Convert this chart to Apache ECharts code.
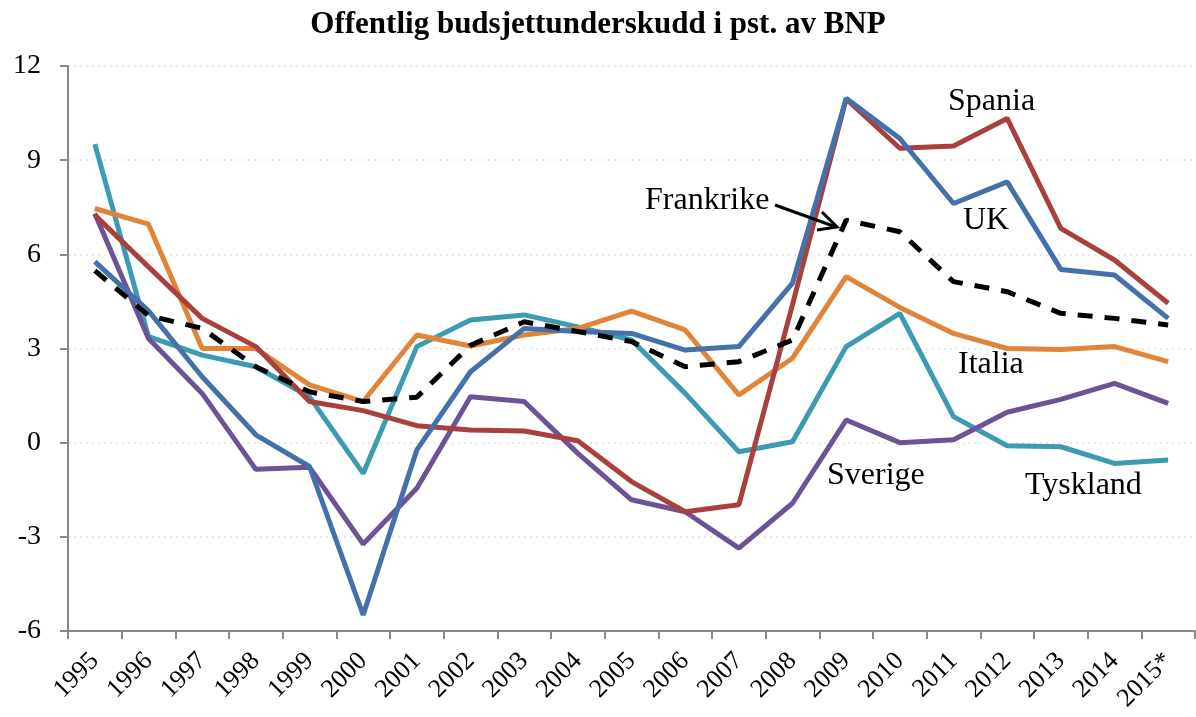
<!DOCTYPE html>
<html><head><meta charset="utf-8">
<script src="https://cdn.jsdelivr.net/npm/echarts@6/dist/echarts.min.js"></script>
<style>html,body{margin:0;padding:0;background:#fff}#c{width:1196px;height:717px}</style>
</head><body><div id="c"></div>
<script>
const years = ['1995','1996','1997','1998','1999','2000','2001','2002','2003','2004','2005','2006','2007','2008','2009','2010','2011','2012','2013','2014','2015*'];
const spania   = [7.25,5.6,3.96,3.06,1.31,1.02,0.54,0.40,0.37,0.06,-1.24,-2.2,-1.98,4.4,10.95,9.38,9.45,10.33,6.83,5.82,4.44];
const uk       = [5.77,4.2,2.1,0.25,-0.76,-5.49,-0.23,2.26,3.64,3.54,3.48,2.95,3.06,5.08,10.97,9.69,7.62,8.31,5.52,5.34,3.96];
const frankrike= [5.48,4.05,3.64,2.42,1.62,1.31,1.45,3.1,3.85,3.54,3.22,2.42,2.58,3.27,7.09,6.72,5.13,4.81,4.12,3.96,3.75];
const italia   = [7.46,6.96,3.0,3.0,1.84,1.31,3.43,3.08,3.43,3.64,4.19,3.59,1.52,2.69,5.29,4.31,3.48,3.0,2.97,3.06,2.58];
const sverige  = [7.3,3.32,1.57,-0.85,-0.78,-3.23,-1.45,1.46,1.31,-0.34,-1.82,-2.2,-3.36,-1.93,0.72,0.0,0.09,0.97,1.38,1.89,1.25];
const tyskland = [9.51,3.38,2.79,2.42,1.46,-0.98,3.06,3.91,4.07,3.69,3.27,1.57,-0.29,0.03,3.06,4.12,0.83,-0.1,-0.13,-0.66,-0.55];

const FONT = '"Liberation Serif","Times New Roman",serif';
const chart = echarts.init(document.getElementById('c'));
function ln(name, data, color, extra) {
  return Object.assign({
    name, type: 'line', data, symbol: 'none', animation: false,
    lineStyle: { color, width: 5 }, z: 2
  }, extra || {});
}
const lbl = (text, left, top) => ({ type: 'text', left, top, z: 10, style: { text, font: '32px ' + FONT, fill: '#000' } });
chart.setOption({
  animation: false,
  title: {
    text: 'Offentlig budsjettunderskudd i pst. av BNP',
    left: 'center', top: 4,
    textStyle: { fontFamily: FONT, fontWeight: 'bold', fontSize: 31, color: '#000' }
  },
  grid: { left: 68, right: 1, top: 66, bottom: 86, containLabel: false },
  xAxis: {
    type: 'category', data: years, boundaryGap: true,
    axisLine: { onZero: false, lineStyle: { color: '#888', width: 2 } },
    axisTick: { show: true, length: 8, lineStyle: { color: '#888', width: 2 } },
    axisLabel: { rotate: 45, fontFamily: FONT, fontSize: 26, color: '#000', margin: 26, interval: 0 },
    splitLine: { show: false }
  },
  yAxis: {
    type: 'value', min: -6, max: 12, interval: 3,
    axisLine: { show: true, lineStyle: { color: '#888', width: 2 } },
    axisTick: { show: true, length: 8, lineStyle: { color: '#888', width: 2 } },
    axisLabel: { fontFamily: FONT, fontSize: 28, color: '#000', margin: 27 },
    splitLine: { show: true, lineStyle: { color: '#e2e2e2', type: [2, 4], width: 1.5 } }
  },
  series: [
    ln('Tyskland', tyskland, '#3D9BB1'),
    ln('Sverige', sverige, '#6D5395'),
    ln('Italia', italia, '#E1843A'),
    ln('Spania', spania, '#A8403E'),
    ln('UK', uk, '#4471AA'),
    ln('Frankrike', frankrike, '#000', { lineStyle: { color: '#000', width: 5, type: [15, 12] }, z: 3 })
  ],
  graphic: [
    lbl('Spania', 948, 86),
    lbl('UK', 963, 205),
    lbl('Frankrike', 645, 185),
    lbl('Italia', 958, 349),
    lbl('Sverige', 827, 460),
    lbl('Tyskland', 1025, 470),
    { type: 'line', shape: { x1: 775, y1: 205, x2: 836, y2: 227 }, style: { stroke: '#000', lineWidth: 3 }, z: 10 },
    { type: 'polyline', shape: { points: [[822, 212], [837, 227], [817, 230]] }, style: { stroke: '#000', lineWidth: 3, fill: null }, z: 10 }
  ]
});
</script></body></html>
